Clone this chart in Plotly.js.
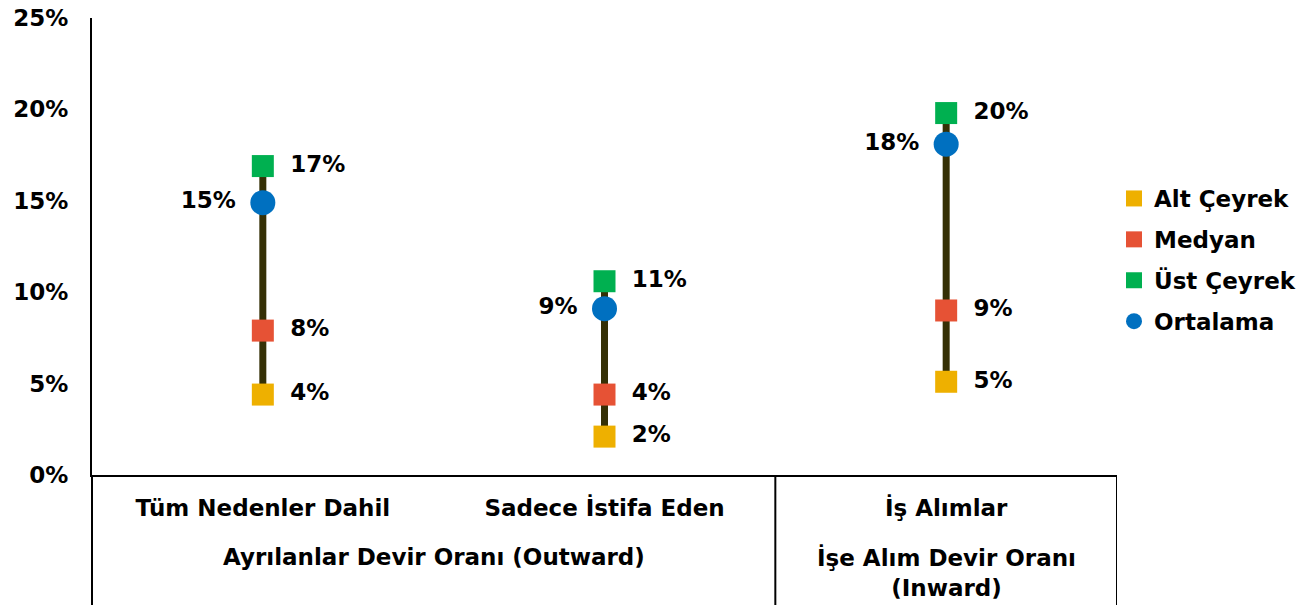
<!DOCTYPE html>
<html>
<head>
<meta charset="utf-8">
<script src="https://cdn.plot.ly/plotly-3.0.1.min.js"></script>
<style>html,body{margin:0;padding:0;background:#fff;}#chart{width:1305px;height:605px;}</style>
</head>
<body>
<div id="chart"></div>
<script>
// ---- data ----
const categories = ['Tüm Nedenler Dahil', 'Sadece İstifa Eden', 'İş Alımlar'];
const altCeyrek  = [0.044, 0.021, 0.051];
const medyan     = [0.079, 0.044, 0.090];
const ustCeyrek  = [0.169, 0.106, 0.198];
const ortalama   = [0.149, 0.091, 0.181];
const seriesNames = ['Alt Çeyrek', 'Medyan', 'Üst Çeyrek', 'Ortalama'];
const groupLabels = ['Ayrılanlar Devir Oranı (Outward)', 'İşe Alım Devir Oranı<br>(Inward)'];
const groupCenters = [0.5, 2];
const yTicks = [0, 0.05, 0.10, 0.15, 0.20, 0.25];

// ---- styles ----
const FONT = {family: 'DejaVu Sans', size: 23, color: '#000', weight: 'bold'};
const colors = {alt: '#EEB000', med: '#E65235', ust: '#00B050', ort: '#0070C0'};
const PADR = '\u00A0\u2009';
const PADL = '\u00A0\u200A';

// range line from Alt to Üst for each category
const lx = [], ly = [];
categories.forEach((c, i) => { lx.push(c, c, null); ly.push(altCeyrek[i], ustCeyrek[i], null); });

const traces = [
  {x: lx, y: ly, mode: 'lines', line: {color: '#353006', width: 7}, showlegend: false, hoverinfo: 'skip'},
  {x: categories, y: altCeyrek, name: seriesNames[0], legendgroup: 'a', mode: 'markers+text',
   marker: {symbol: 'square', size: 22, color: colors.alt},
   texttemplate: PADR + '%{y:.0%}', textposition: 'middle right', textfont: FONT, cliponaxis: false},
  {x: categories, y: medyan, name: seriesNames[1], legendgroup: 'b', mode: 'markers+text',
   marker: {symbol: 'square', size: 22, color: colors.med},
   texttemplate: PADR + '%{y:.0%}', textposition: 'middle right', textfont: FONT, cliponaxis: false},
  {x: categories, y: ustCeyrek, name: seriesNames[2], legendgroup: 'c', mode: 'markers+text',
   marker: {symbol: 'square', size: 22, color: colors.ust},
   texttemplate: PADR + '%{y:.0%}', textposition: 'middle right', textfont: FONT, cliponaxis: false},
  {x: categories, y: ortalama, name: seriesNames[3], legendgroup: 'd', mode: 'markers+text',
   marker: {symbol: 'circle', size: 25, color: colors.ort},
   texttemplate: '%{y:.0%}' + PADL, textposition: 'middle left', textfont: FONT, cliponaxis: false}
];

const BOT = -130 / 457;
const shapes = [
  {type: 'line', xref: 'paper', yref: 'paper', x0: 0, x1: 0, y0: 0, y1: BOT - 0.05, line: {color: '#000', width: 2}},
  {type: 'line', xref: 'x', yref: 'paper', x0: 1.5, x1: 1.5, y0: 0, y1: BOT - 0.05, line: {color: '#000', width: 2}},
  {type: 'line', xref: 'x', yref: 'paper', x0: 2.5, x1: 2.5, y0: 0, y1: BOT - 0.05, line: {color: '#000', width: 2}}
];

const annotations = groupLabels.map((t, i) => ({
  text: t, xref: 'x', yref: 'paper', x: groupCenters[i],
  y: i === 0 ? (475 - 557) / 457 : (475 - 572.5) / 457,
  xanchor: 'center', yanchor: 'middle', showarrow: false, font: FONT
}));

const layout = {
  width: 1305, height: 605,
  margin: {l: 92, r: 188, t: 18, b: 130, autoexpand: false},
  paper_bgcolor: '#fff', plot_bgcolor: '#fff',
  font: FONT,
  showlegend: true,
  legend: {x: (1114 - 92) / 1025, xanchor: 'left', y: (475 - 260) / 457, yanchor: 'middle',
           font: FONT, traceorder: 'grouped', tracegroupgap: 8, itemsizing: 'trace'},
  xaxis: {type: 'category', categoryorder: 'array', categoryarray: categories, range: [-0.5, 2.5],
          showgrid: false, zeroline: false, showline: true, linecolor: '#000', linewidth: 2,
          ticks: '', tickfont: FONT, ticklabelstandoff: 11, fixedrange: true, automargin: false},
  yaxis: {range: [0, 0.25], tickvals: yTicks, tickformat: '.0%', showgrid: false, zeroline: false,
          showline: true, linecolor: '#000', linewidth: 2, ticks: '', tickfont: FONT,
          ticklabelstandoff: 17, fixedrange: true, automargin: false},
  shapes: shapes,
  annotations: annotations
};

Plotly.newPlot('chart', traces, layout, {displayModeBar: false, staticPlot: true});
</script>
</body>
</html>
